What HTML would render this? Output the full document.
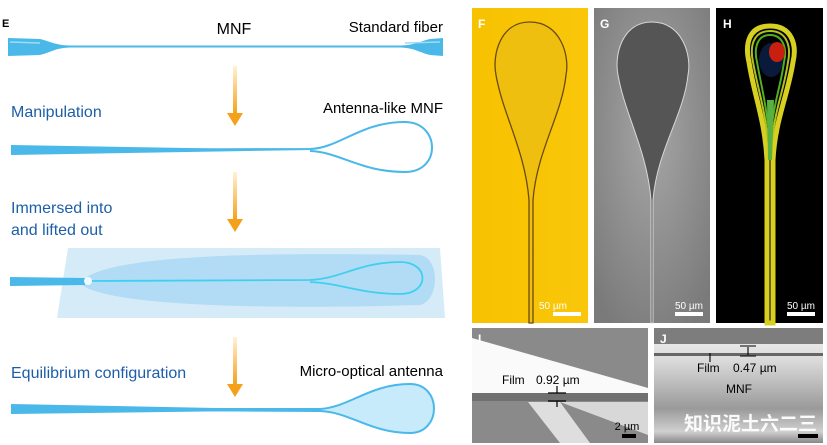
<!DOCTYPE html>
<html><head><meta charset="utf-8"><style>
body{margin:0;background:#fff;width:827px;height:445px;overflow:hidden}
svg{display:block}
text{font-family:"Liberation Sans","Noto Sans CJK SC",sans-serif}
</style></head><body>
<svg width="827" height="445" viewBox="0 0 827 445" xmlns="http://www.w3.org/2000/svg">
<defs>
<linearGradient id="ar" x1="0" y1="0" x2="0" y2="1"><stop offset="0" stop-color="#fff3d6"/><stop offset="1" stop-color="#f5a01a"/></linearGradient>
<linearGradient id="yel" x1="0" y1="0" x2="1" y2="0"><stop offset="0" stop-color="#f7c200"/><stop offset="1" stop-color="#f9c60a"/></linearGradient>
<radialGradient id="gbg" cx="0.5" cy="0.4" r="0.7"><stop offset="0" stop-color="#a6a6a6"/><stop offset="1" stop-color="#7a7a7a"/></radialGradient>
<linearGradient id="jg" x1="0" y1="0" x2="0" y2="1"><stop offset="0" stop-color="#f4f4f4"/><stop offset="0.3" stop-color="#d8d8d8"/><stop offset="0.7" stop-color="#9a9a9a"/><stop offset="0.9" stop-color="#d0d0d0"/><stop offset="1" stop-color="#888"/></linearGradient>
<g id="arrow"><rect x="-2" y="0" width="4" height="48" fill="url(#ar)"/><path d="M-8,47 L8,47 L0,60 Z" fill="#f5a01a"/></g>
</defs>

<!-- Left panel -->
<text x="2" y="27" font-size="11" font-weight="bold">E</text>
<text x="234" y="34" font-size="16" text-anchor="middle">MNF</text>
<text x="443" y="32" font-size="15" text-anchor="end">Standard fiber</text>
<path d="M8,38 L40,39 C52,42 55,45 70,45.5 L400,45.5 C415,45 418,42 430,39 L443,38 L443,56 L430,55 C418,52 415,48 400,47.5 L70,47.5 C55,48 52,52 40,55 L8,56 Z" fill="#4ab8e8"/>
<path d="M10,42 L40,43 M405,43 L440,42" stroke="#9fdcf5" stroke-width="1.5"/>
<use href="#arrow" x="235" y="66"/>
<text x="11" y="117" font-size="16" fill="#1d5ea8">Manipulation</text>
<text x="443" y="113" font-size="15" text-anchor="end">Antenna-like MNF</text>
<path d="M11,145 L11,155 L310,150 Z" fill="#4ab8e8"/>
<path d="M11,150 L310,149 C340,148 360,122 405,122 C440,122 442,172 405,172 C360,172 340,152 310,151" fill="none" stroke="#4ab8e8" stroke-width="2"/>
<use href="#arrow" x="235" y="172"/>
<text x="11" y="213" font-size="16" fill="#1d5ea8">Immersed into</text>
<text x="11" y="235" font-size="16" fill="#1d5ea8">and lifted out</text>
<path d="M68,248 L440,248 L445,318 L57,318 Z" fill="#d6ebf8"/>
<path d="M80,283 C100,255 250,252 420,255 C440,258 440,300 420,305 C250,310 100,305 80,283 Z" fill="#aedaf4" opacity="0.9"/>
<path d="M10,277 L85,278 L85,285 L10,286 Z" fill="#4ab8e8"/>
<path d="M88,281 L310,280 C340,279 360,262 400,262 C430,262 430,294 400,294 C360,294 340,283 310,282" fill="none" stroke="#3fd0ee" stroke-width="1.8"/>
<circle cx="88" cy="281" r="4" fill="#eefaff"/>
<use href="#arrow" x="235" y="337"/>
<text x="11" y="378" font-size="16" fill="#1d5ea8">Equilibrium configuration</text>
<text x="443" y="376" font-size="15" text-anchor="end">Micro-optical antenna</text>
<path d="M11,404 L11,414 L320,410 Z" fill="#4ab8e8"/>
<path d="M11,409 L320,409 C350,407 370,384 410,384 C442,384 442,433 410,433 C370,433 350,412 320,411 Z" fill="#c8ebfb" stroke="#4ab8e8" stroke-width="2"/>

<!-- F -->
<rect x="472" y="8" width="116" height="315" fill="url(#yel)"/>
<path d="M530,22 C500,22 492,55 496,75 C503,115 525,150 529,200 L529,323 L533,323 L533,200 C537,150 562,115 566,75 C570,55 560,22 530,22 Z" fill="#efbf10" stroke="#6a4a10" stroke-width="1.3"/>
<text x="478" y="28" font-size="12" font-weight="bold" fill="#fff">F</text>
<text x="553" y="309" font-size="10" fill="#fff" text-anchor="middle">50 µm</text>
<rect x="553" y="312" width="28" height="4" fill="#fff"/>
<!-- G -->
<rect x="594" y="8" width="116" height="315" fill="url(#gbg)"/>
<path d="M652,22 C622,22 614,55 618,75 C625,115 647,150 651,200 L651,323 L653,323 L653,200 C657,150 684,115 688,75 C692,55 682,22 652,22 Z" fill="#555" stroke="#d8d8d8" stroke-width="1"/>
<text x="600" y="28" font-size="12" font-weight="bold" fill="#fff">G</text>
<text x="689" y="309" font-size="10" fill="#fff" text-anchor="middle">50 µm</text>
<rect x="675" y="312" width="28" height="4" fill="#fff"/>
<!-- H -->
<rect x="716" y="8" width="107" height="315" fill="#000"/>
<path d="M770,26 C748,26 745,45 749,62 C754,95 765,120 767,160 L767,323 L773,323 L773,160 C775,120 788,95 793,62 C797,45 792,26 770,26 Z" fill="none" stroke="#d8d020" stroke-width="5"/>
<path d="M770,31 C752,31 750,48 753,62 C758,90 764,105 768,140 L772,140 C776,105 784,90 788,62 C791,48 788,31 770,31 Z" fill="none" stroke="#b0c020" stroke-width="2"/>
<path d="M770,35 C756,35 754,50 757,62 C761,85 765,98 768,125 L772,125 C775,98 781,85 784,62 C787,50 784,35 770,35 Z" fill="none" stroke="#50b020" stroke-width="2"/>
<ellipse cx="771" cy="60" rx="12" ry="17" fill="#0a1a3a"/>
<ellipse cx="777" cy="52" rx="8" ry="10" fill="#c82010"/>
<path d="M767,100 L774,100 L772,160 L768,160 Z" fill="#5ab040"/>
<text x="723" y="28" font-size="12" font-weight="bold" fill="#fff">H</text>
<text x="801" y="309" font-size="10" fill="#fff" text-anchor="middle">50 µm</text>
<rect x="787" y="312" width="28" height="4" fill="#fff"/>
<!-- I -->
<rect x="472" y="328" width="176" height="115" fill="#8a8a8a"/>
<path d="M472,338 L648,388 L648,398 L472,398 Z" fill="#fafafa"/>
<rect x="472" y="393" width="176" height="8" fill="#707070"/>
<path d="M528,402 L560,443 L590,443 L560,402 Z" fill="#dedede"/>
<path d="M560,402 L648,402 L648,435 Z" fill="#d8d8d8"/>
<text x="478" y="343" font-size="12" font-weight="bold" fill="#fff">I</text>
<text x="502" y="384" font-size="12">Film</text>
<text x="536" y="384" font-size="12">0.92 µm</text>
<path d="M548,393 L566,393 M548,401 L566,401 M557,386 L557,393 M557,407 L557,401" stroke="#000" stroke-width="1.2"/>
<text x="627" y="430" font-size="11" text-anchor="middle">2 µm</text>
<rect x="622" y="434" width="14" height="4" fill="#000"/>
<!-- J -->
<rect x="654" y="328" width="169" height="115" fill="url(#jg)"/>
<rect x="654" y="328" width="169" height="16" fill="#7d7d7d"/>
<rect x="654" y="353" width="169" height="3" fill="#666"/>
<text x="660" y="343" font-size="12" font-weight="bold" fill="#fff">J</text>
<text x="697" y="372" font-size="12">Film</text>
<text x="733" y="372" font-size="12">0.47 µm</text>
<path d="M710,353 L710,362 M740,346 L756,346 M740,356 L756,356 M748,347 L748,355" stroke="#000" stroke-width="1.1"/>
<text x="739" y="393" font-size="12" text-anchor="middle">MNF</text>
<text x="684" y="430" font-size="19" fill="#fff" font-weight="bold" opacity="0.95">知识泥土六二三</text>
<rect x="798" y="434" width="20" height="4" fill="#000"/>
</svg>
</body></html>
